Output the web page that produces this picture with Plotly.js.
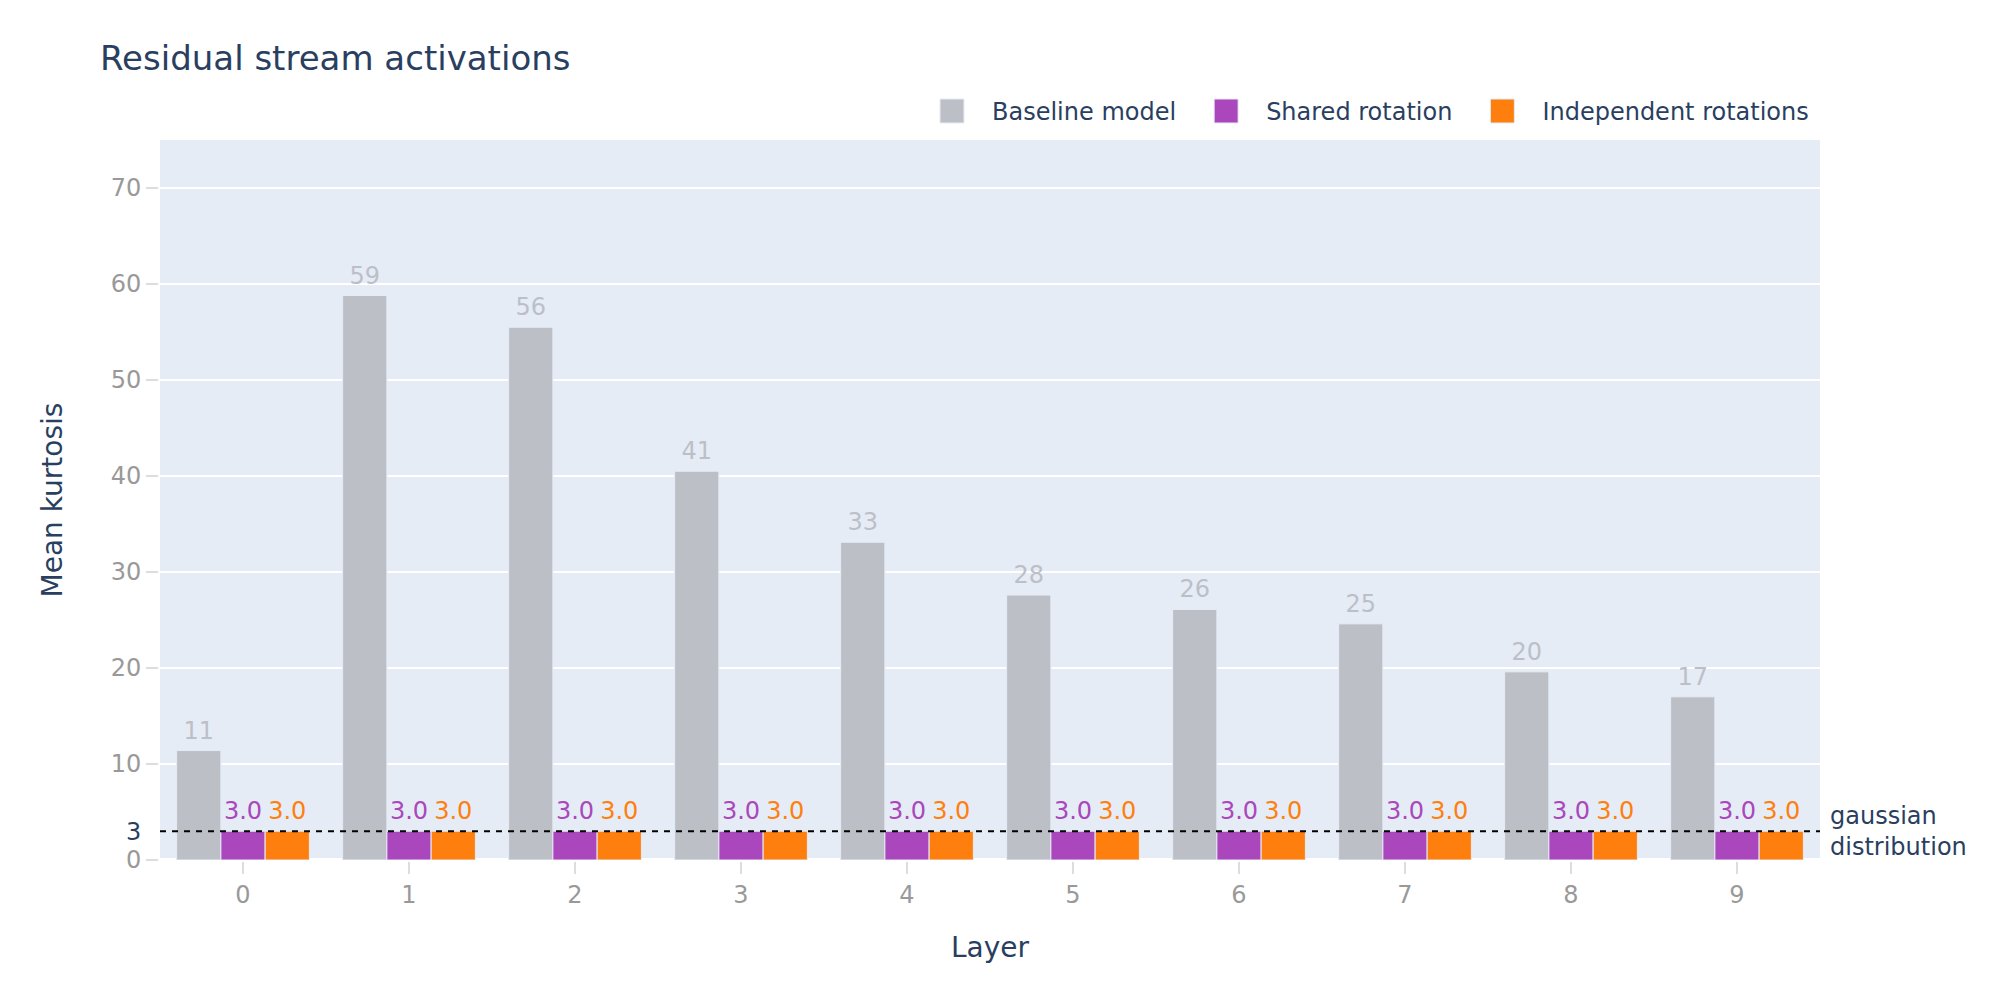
<!DOCTYPE html>
<html>
<head>
<meta charset="utf-8">
<script src="https://cdn.plot.ly/plotly-3.0.1.min.js"></script>
<style>
  html, body { margin: 0; padding: 0; background: #fff; }
  #outer { width: 2000px; height: 1000px; position: relative; overflow: hidden; }
  #wrap { position: absolute; left: 0; top: 0; width: 1000px; height: 500px;
          transform: scale(2); transform-origin: 0 0; }
</style>
</head>
<body>
<div id="outer"><div id="wrap"><div id="plot"></div></div></div>
<script>
// kurtosis per layer
var layers = ['0', '1', '2', '3', '4', '5', '6', '7', '8', '9'];
var baseline = [11.4, 58.8, 55.5, 40.5, 33.1, 27.6, 26.1, 24.6, 19.6, 17.0];
var shared = [3.0, 3.0, 3.0, 3.0, 3.0, 3.0, 3.0, 3.0, 3.0, 3.0];
var independent = [3.0, 3.0, 3.0, 3.0, 3.0, 3.0, 3.0, 3.0, 3.0, 3.0];
var gaussianLevel = 3;

var grey = '#bdbfc7';
var purple = '#ab47bc';
var orange = '#ff7f0e';

// figure is laid out at 1000x500 and scaled 2x by css
function barTrace(name, values, color, fmt) {
  return {
    type: 'bar',
    name: name,
    x: layers,
    y: values,
    marker: { color: color, line: { color: '#E5ECF6', width: 0.5 } },
    texttemplate: fmt,
    textposition: 'outside',
    textfont: { color: color, size: 12 },
    cliponaxis: false
  };
}

var data = [
  barTrace('Baseline model', baseline, grey, '%{y:.0f}'),
  barTrace('Shared rotation', shared, purple, '%{y:.1f}'),
  barTrace('Independent rotations', independent, orange, '%{y:.1f}')
];

var layout = {
  width: 1000,
  height: 500,
  font: { family: 'DejaVu Sans', size: 12, color: '#2a3f5f' },
  paper_bgcolor: '#fff',
  plot_bgcolor: '#E5ECF6',
  margin: { l: 80, r: 90, t: 70, b: 70 },
  title: { text: 'Residual stream activations', x: 0.05, font: { size: 17 } },
  barmode: 'group',
  bargap: 0.2,
  bargroupgap: 0,
  legend: {
    orientation: 'h',
    x: 1, xanchor: 'right',
    y: 1, yanchor: 'bottom'
  },
  xaxis: {
    type: 'category',
    title: { text: 'Layer', font: { size: 14 }, standoff: 15 },
    ticks: 'outside', ticklen: 6, tickwidth: 1, tickcolor: '#dddddd',
    tickfont: { color: '#999999' },
    showgrid: false
  },
  yaxis: {
    title: { text: 'Mean kurtosis', font: { size: 14 }, standoff: 20 },
    range: [0, 75],
    tickvals: [0, 10, 20, 30, 40, 50, 60, 70],
    ticks: 'outside', ticklen: 6, tickwidth: 1, tickcolor: '#dddddd',
    tickfont: { color: '#999999' },
    gridcolor: '#ffffff', gridwidth: 1,
    zeroline: true, zerolinecolor: '#ffffff', zerolinewidth: 2
  },
  shapes: [{
    type: 'line', xref: 'paper', yref: 'y',
    x0: 0, x1: 1, y0: gaussianLevel, y1: gaussianLevel,
    line: { color: '#000000', width: 1, dash: 'dot' }
  }],
  annotations: [
    {
      xref: 'paper', yref: 'y', x: 1, y: gaussianLevel,
      xanchor: 'left', yanchor: 'middle', align: 'left', xshift: 3,
      text: 'gaussian<br>distribution', showarrow: false,
      font: { size: 12, color: '#2a3f5f' }
    },
    {
      xref: 'paper', yref: 'y', x: 0, y: gaussianLevel,
      xanchor: 'right', yanchor: 'middle', xshift: -7,
      text: String(gaussianLevel), showarrow: false,
      font: { size: 12, color: '#2a3f5f' }
    }
  ]
};

Plotly.newPlot('plot', data, layout, { displayModeBar: false });
</script>
</body>
</html>
